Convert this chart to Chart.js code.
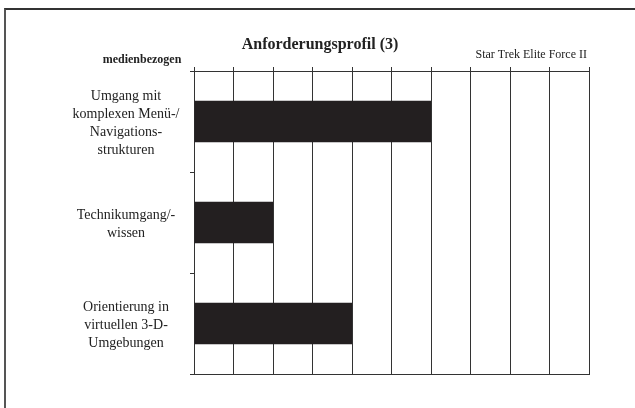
<!DOCTYPE html>
<html lang="de">
<head>
<meta charset="UTF-8">
<title>Anforderungsprofil (3)</title>
<script src="https://cdn.jsdelivr.net/npm/chart.js"></script>
<style>
  html, body { margin: 0; padding: 0; background: #fff; overflow: hidden; }
  .frame { position: absolute; left: 4px; top: 8px; width: 700px; height: 500px;
           border-top: 2px solid #333; border-left: 2px solid #555; }
  .wrap { position: absolute; left: 0; top: 0; width: 635px; height: 408px; }
</style>
</head>
<body>
<div class="frame"></div>
<div class="wrap"><canvas id="chart" width="635" height="408"></canvas></div>
<script>
// Data
const categories = [
  ['Umgang mit', 'komplexen Menü-/', 'Navigations-', 'strukturen'],
  ['Technikumgang/-', 'wissen'],
  ['Orientierung in', 'virtuellen 3-D-', 'Umgebungen']
];
const values = [6, 2, 4];
const xTicks = [0, 1, 2, 3, 4, 5, 6, 7, 8, 9, 10];

const chartTitle = 'Anforderungsprofil (3)';
const groupLabel = 'medienbezogen';
const gameLabel = 'Star Trek Elite Force II';

const SERIF = '"Liberation Serif", "Times New Roman", serif';
const LINE = '#333';

// draws the category labels and the header texts
const textPlugin = {
  id: 'texts',
  afterDraw(chart) {
    const ctx = chart.ctx;
    const y = chart.scales.y;
    ctx.save();
    ctx.fillStyle = '#222';
    ctx.textBaseline = 'middle';

    ctx.font = '14px ' + SERIF;
    ctx.textAlign = 'center';
    categories.forEach((lines, i) => {
      const cy = y.getPixelForValue(i) + 2;
      const lh = 18;
      lines.forEach((t, j) => {
        ctx.fillText(t, 126, cy + (j - (lines.length - 1) / 2) * lh);
      });
    });

    ctx.font = 'bold 16px ' + SERIF;
    ctx.fillText(chartTitle, 320, 45);

    ctx.font = 'bold 12px ' + SERIF;
    ctx.fillText(groupLabel, 142, 60);

    ctx.font = '12px ' + SERIF;
    ctx.textAlign = 'right';
    ctx.fillText(gameLabel, 587, 55);
    ctx.restore();
  }
};

new Chart(document.getElementById('chart'), {
  type: 'bar',
  data: {
    labels: categories.map(c => c.join(' ')),
    datasets: [{
      data: values,
      backgroundColor: '#231f20',
      borderWidth: 0,
      categoryPercentage: 0.41,
      barPercentage: 1
    }]
  },
  options: {
    indexAxis: 'y',
    responsive: false,
    animation: false,
    layout: { padding: { left: 0, right: 46, top: 0, bottom: 0 } },
    plugins: {
      legend: { display: false },
      title: { display: false },
      tooltip: { enabled: false }
    },
    scales: {
      x: {
        position: 'top',
        min: 0,
        max: 10,
        afterBuildTicks: s => { s.ticks = xTicks.map(v => ({ value: v })); },
        afterFit: s => { s.height = 71; },
        ticks: { display: false },
        grid: { color: LINE, lineWidth: 1, tickLength: 4, drawTicks: true },
        border: { display: true, color: LINE, width: 1 }
      },
      xb: {
        axis: 'x',
        position: 'bottom',
        min: 0,
        max: 10,
        afterFit: s => { s.height = 34; },
        ticks: { display: false },
        grid: { display: false },
        border: { display: true, color: LINE, width: 1 }
      },
      y: {
        afterFit: s => { s.width = 194; },
        ticks: { display: false },
        grid: { offset: true, drawOnChartArea: false, tickLength: 4, color: LINE },
        border: { display: true, color: LINE, width: 1 }
      }
    }
  },
  plugins: [textPlugin]
});
</script>
</body>
</html>
